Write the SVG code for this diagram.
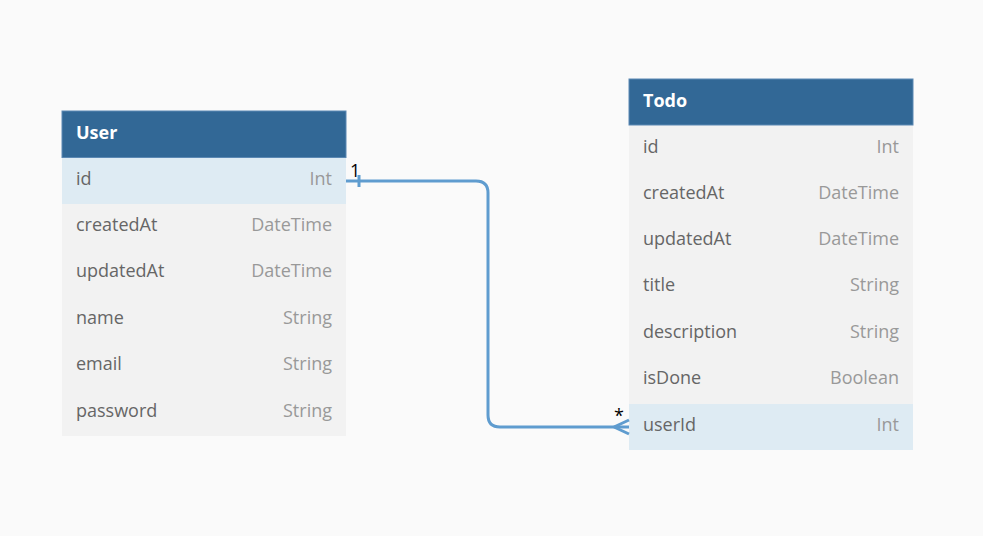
<svg xmlns="http://www.w3.org/2000/svg" width="983" height="536" viewBox="0 0 983 536">
<style>
.hdr{fill:#326896;stroke:#5b88b3;stroke-width:1}
.row{fill:#f2f2f2}
.rowk{fill:#deebf3}
.title{font-family:"Open Sans",sans-serif;font-size:18px;font-weight:bold;fill:#ffffff}
.fn{font-family:"Open Sans",sans-serif;font-size:18px;fill:#666666}
.ft{font-family:"Open Sans",sans-serif;font-size:18px;fill:#999999;text-anchor:end}
.conn{fill:none;stroke:#5f9ccf;stroke-width:3}
.lbl{font-family:"Open Sans",sans-serif;font-size:18px;fill:#000000}
</style>
<rect width="983" height="536" fill="#fafafa"/>
<g id="User">
<rect class="row" x="62" y="157" width="284" height="279"/>
<rect class="rowk" x="62" y="157" width="284" height="47"/>
<rect class="hdr" x="62" y="111" width="284" height="46.5"/>
<text class="title" x="76" y="139">User</text>
<text class="fn" x="76" y="185">id</text><text class="ft" x="332" y="185">Int</text>
<text class="fn" x="76" y="231">createdAt</text><text class="ft" x="332" y="231">DateTime</text>
<text class="fn" x="76" y="277">updatedAt</text><text class="ft" x="332" y="277">DateTime</text>
<text class="fn" x="76" y="324">name</text><text class="ft" x="332" y="324">String</text>
<text class="fn" x="76" y="370">email</text><text class="ft" x="332" y="370">String</text>
<text class="fn" x="76" y="417">password</text><text class="ft" x="332" y="417">String</text>
</g>
<g id="Todo">
<rect class="row" x="629" y="125" width="284" height="325"/>
<rect class="rowk" x="629" y="404" width="284" height="46"/>
<rect class="hdr" x="629" y="79" width="284" height="46"/>
<text class="title" x="643" y="107">Todo</text>
<text class="fn" x="643" y="153">id</text><text class="ft" x="899" y="153">Int</text>
<text class="fn" x="643" y="199">createdAt</text><text class="ft" x="899" y="199">DateTime</text>
<text class="fn" x="643" y="245">updatedAt</text><text class="ft" x="899" y="245">DateTime</text>
<text class="fn" x="643" y="291">title</text><text class="ft" x="899" y="291">String</text>
<text class="fn" x="643" y="338">description</text><text class="ft" x="899" y="338">String</text>
<text class="fn" x="643" y="384">isDone</text><text class="ft" x="899" y="384">Boolean</text>
<text class="fn" x="643" y="431">userId</text><text class="ft" x="899" y="431">Int</text>
</g>
<g id="connectors">
<path class="conn" d="M346 181 H476 Q488 181 488 193 V415 Q488 427 500 427 H629"/>
<path class="conn" d="M359 175 V187"/>
<path class="conn" d="M614 427 L629 420 M614 427 L629 434"/>
<text class="lbl" x="350" y="177">1</text>
<text class="lbl" x="614" y="422">*</text>
</g>
</svg>
